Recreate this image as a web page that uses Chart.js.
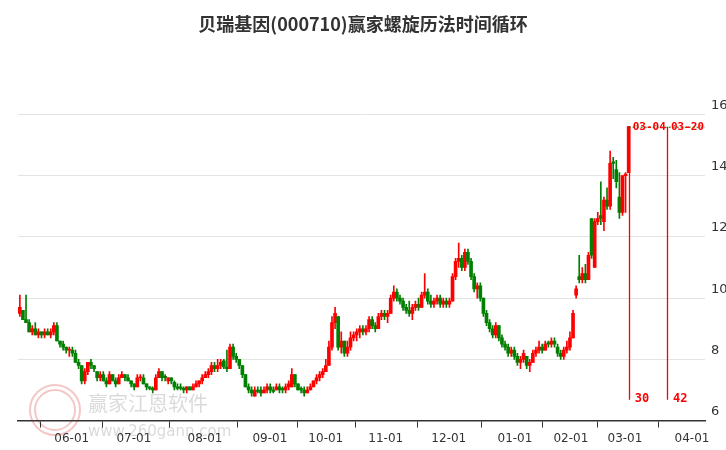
<!DOCTYPE html>
<html><head><meta charset="utf-8">
<script src="https://cdn.jsdelivr.net/npm/chart.js@4"></script>
<style>html,body{margin:0;padding:0;background:#fff}#w{width:726px;height:450px}</style>
</head><body><div id="w"><canvas id="c"></canvas></div>
<script>
const title = "贝瑞基因(000710)赢家螺旋历法时间循环";
// candles: [open, high, low, close]
const candles = [
[9.5,10.1,9.4,9.7],[9.6,9.6,9.3,9.3],[9.3,10.1,9.2,9.2],[9.2,9.3,8.9,8.9],[8.9,9.1,8.8,9.0],[9.0,9.2,8.8,8.8],[8.8,9.0,8.7,8.9],[8.9,8.9,8.7,8.8],[8.8,9.0,8.7,8.9],[8.9,9.0,8.8,8.8],[8.8,9.0,8.7,8.9],[8.9,9.2,8.8,9.1],[9.1,9.2,8.6,8.6],[8.6,8.6,8.4,8.5],[8.5,8.6,8.3,8.4],[8.4,8.4,8.2,8.3],[8.3,8.4,8.1,8.3],
[8.3,8.4,8.1,8.2],[8.2,8.3,7.9,7.9],[7.9,8.0,7.7,7.8],[7.8,7.8,7.2,7.3],[7.3,7.7,7.2,7.6],[7.6,7.9,7.5,7.9],[7.9,8.0,7.7,7.8],[7.8,7.8,7.6,7.7],[7.6,7.6,7.3,7.4],[7.4,7.6,7.3,7.5],[7.5,7.6,7.3,7.3],[7.3,7.4,7.1,7.2],[7.2,7.6,7.2,7.5],[7.5,7.5,7.3,7.3],[7.3,7.4,7.1,7.2],[7.2,7.5,7.2,7.4],[7.4,7.6,7.4,7.5],[7.5,7.5,7.3,7.4],[7.4,7.5,7.3,7.3],[7.3,7.3,7.1,7.2],
[7.2,7.2,7.0,7.1],[7.1,7.5,7.1,7.4],[7.4,7.5,7.3,7.4],[7.4,7.5,7.2,7.2],[7.2,7.2,7.0,7.1],[7.1,7.1,7.0,7.05],[7.05,7.1,6.9,7.0],[7.0,7.5,7.0,7.4],[7.4,7.7,7.4,7.6],[7.6,7.6,7.3,7.4],[7.45,7.5,7.3,7.4],[7.3,7.4,7.2,7.4],[7.4,7.4,7.2,7.3],[7.25,7.3,7.0,7.1],[7.1,7.2,7.0,7.05],[7.1,7.2,7.0,7.05],[7.05,7.1,6.9,7.0],[7.0,7.1,6.9,7.1],[7.1,7.1,7.0,7.0],[7.0,7.2,7.0,7.1],[7.1,7.3,7.1,7.2],[7.2,7.3,7.1,7.3],[7.3,7.5,7.2,7.4],
[7.4,7.6,7.4,7.5],[7.5,7.7,7.4,7.6],[7.6,7.9,7.5,7.8],[7.8,7.9,7.6,7.7],[7.7,8.0,7.6,7.8],[7.8,8.0,7.7,7.9],[7.95,8.0,7.7,7.75],[7.75,8.3,7.6,7.7],[7.7,8.5,7.7,8.4],[8.4,8.5,8.0,8.1],[8.1,8.2,7.9,8.0],[8.0,8.0,7.7,7.8],[7.8,7.8,7.4,7.5],[7.5,7.5,7.1,7.1],[7.1,7.2,6.9,7.0],[7.0,7.1,6.8,6.9],[6.8,7.1,6.8,7.0],[7.0,7.1,6.9,6.95],[7.0,7.1,6.8,6.9],[6.9,7.1,6.9,7.0],[7.0,7.2,6.9,7.1],[7.1,7.2,6.9,7.0],
[7.0,7.1,6.9,6.95],[7.0,7.2,7.0,7.1],[7.1,7.2,6.9,7.0],[7.05,7.1,6.9,7.0],[7.0,7.2,6.9,7.1],[7.1,7.3,7.0,7.2],[7.1,7.7,7.1,7.5],[7.5,7.5,7.1,7.2],[7.2,7.2,7.0,7.0],[7.05,7.1,6.9,7.0],[7.0,7.1,6.8,6.9],[6.9,7.1,6.9,7.0],[7.0,7.2,7.0,7.1],[7.1,7.3,7.1,7.3],[7.3,7.5,7.2,7.4],[7.4,7.6,7.3,7.5],[7.5,7.7,7.4,7.6],[7.6,8.0,7.6,7.8],
[7.8,8.6,7.8,8.4],[8.4,9.4,8.3,9.2],[9.2,9.7,9.0,9.5],[9.4,9.4,8.3,8.4],[8.4,8.9,8.2,8.6],[8.6,8.6,8.1,8.2],[8.2,8.6,8.1,8.4],[8.4,8.9,8.3,8.7],[8.7,8.9,8.6,8.8],[8.8,9.0,8.6,8.9],[8.9,9.1,8.7,9.0],[9.0,9.1,8.8,8.9],[8.9,9.1,8.8,9.0],[9.0,9.4,8.9,9.3],[9.3,9.4,9.0,9.1],[9.1,9.2,8.9,9.0],[9.0,9.5,9.0,9.4],[9.4,9.6,9.3,9.5],[9.5,9.6,9.3,9.4],
[9.4,9.6,9.2,9.5],[9.5,10.1,9.5,10.0],[10.0,10.4,9.9,10.2],[10.2,10.3,9.9,10.0],[10.0,10.1,9.8,9.9],[9.9,10.0,9.6,9.7],[9.7,9.8,9.5,9.6],[9.6,9.9,9.4,9.5],[9.5,9.8,9.3,9.7],[9.7,9.9,9.6,9.8],[9.8,10.0,9.6,9.7],[9.7,10.2,9.7,10.1],[10.1,10.8,10.0,10.2],[10.2,10.3,9.8,9.9],[9.9,10.1,9.7,9.8],[9.8,10.0,9.7,9.9],[9.9,10.1,9.8,10.0],[10.0,10.1,9.7,9.8],[9.8,10.0,9.7,9.9],[9.9,10.0,9.7,9.8],[9.8,10.0,9.7,9.9],
[9.9,10.8,9.9,10.7],[10.7,11.3,10.6,11.2],[11.2,11.8,11.0,11.3],[11.3,11.4,10.9,11.0],[11.0,11.6,10.9,11.5],[11.5,11.6,11.1,11.2],[11.2,11.3,10.6,10.7],[10.7,10.8,10.2,10.3],[10.3,10.5,10.0,10.4],[10.4,10.5,9.9,10.0],[10.0,10.0,9.4,9.5],[9.5,9.6,9.1,9.2],[9.2,9.3,8.9,9.0],[9.0,9.1,8.7,8.8],[8.8,9.2,8.7,9.1],[9.1,9.1,8.6,8.7],[8.7,8.8,8.4,8.5],[8.5,8.6,8.3,8.4],[8.4,8.5,8.1,8.2],[8.2,8.4,8.1,8.3],[8.3,8.4,8.0,8.1],
[8.1,8.2,7.8,7.9],[7.9,8.1,7.7,8.0],[8.0,8.3,7.9,8.2],[8.1,8.1,7.7,7.8],[7.8,8.0,7.6,7.9],[7.9,8.3,7.9,8.2],[8.2,8.4,8.1,8.3],[8.3,8.6,8.2,8.4],[8.4,8.5,8.2,8.3],[8.3,8.6,8.3,8.5],[8.55,8.6,8.4,8.5],[8.5,8.7,8.4,8.6],[8.6,8.7,8.4,8.5],[8.4,8.5,8.1,8.2],[8.2,8.3,8.0,8.1],[8.1,8.4,8.0,8.3],[8.3,8.6,8.2,8.4],[8.4,8.9,8.3,8.7],
[8.7,9.6,8.7,9.5],[10.1,10.4,10.0,10.3],[10.7,11.4,10.5,10.6],[10.6,11.0,10.5,10.8],[10.8,11.1,10.5,10.6],[10.6,11.5,10.6,11.4],[12.6,12.6,11.3,11.4],[11.0,12.6,11.0,12.5],[12.5,12.8,12.4,12.6],[12.7,13.8,12.4,12.6],[12.5,13.3,12.2,13.2],[13.2,13.6,12.9,13.0],[13.0,14.8,12.9,14.4],[14.45,14.6,13.9,14.4],[14.2,14.5,13.6,13.8],[13.3,14.1,12.6,12.8],[12.8,14.0,12.7,14.0],[14.0,14.1,12.8,14.05],
[14.1,15.6,14.1,15.6]
];
const monthLabels = ["06-01","07-01","08-01","09-01","10-01","11-01","12-01","01-01","02-01","03-01","04-01"];
const monthPos = [16.8,36.9,59.9,80.9,99,118.4,138.8,160.2,178.3,195.8,217.5];
const yTicks = [6,8,10,12,14,16];
const cycleDates = ["03-04","03-20"];
const cyclePos = [197,209.4];
const cycleDays = ["30","42"];
const topPrice = 15.6;

const up = c => c[3] >= c[0];
const colorOf = c => up(c) ? "#ff0000" : "#008000";
const bodies = candles.map((c,i)=>{const lo=Math.min(c[0],c[3]),hi=Math.max(c[0],c[3]);return {x:i,y:[lo,hi===lo?hi+0.03:hi]};});
const wicks = candles.map((c,i)=>({x:i,y:[c[2],c[1]]}));

const overlay = {
  id:'overlay',
  afterDatasetsDraw(chart){
    const {ctx, scales:{x,y}} = chart;
    ctx.save();
    ctx.strokeStyle = "#ff0000"; ctx.lineWidth = 1.3;
    cyclePos.forEach(p=>{
      const px = Math.round(x.getPixelForValue(p))+0.5;
      ctx.beginPath(); ctx.moveTo(px, y.getPixelForValue(topPrice)); ctx.lineTo(px, y.getPixelForValue(6.68)); ctx.stroke();
    });
    ctx.strokeStyle = "#006400"; ctx.lineWidth=1; ctx.setLineDash([2,2]);
    ctx.beginPath(); ctx.moveTo(x.getPixelForValue(cyclePos[0]), y.getPixelForValue(topPrice)+0.5);
    ctx.lineTo(x.right, y.getPixelForValue(topPrice)+0.5); ctx.stroke(); ctx.setLineDash([]);
    ctx.fillStyle="#ff0000"; ctx.font="bold 11px 'DejaVu Sans Mono', monospace"; ctx.textBaseline="middle";
    cyclePos.forEach((p,i)=>{
      const px = x.getPixelForValue(p);
      ctx.fillText(cycleDates[i], px+4, y.getPixelForValue(topPrice));
      ctx.font="bold 12px 'DejaVu Sans Mono', monospace";
      ctx.fillText(cycleDays[i], px+6, y.getPixelForValue(6.68)-1);
      ctx.font="bold 11px 'DejaVu Sans Mono', monospace";
    });
    ctx.restore();
  },
  beforeDraw(chart){
    const ctx = chart.ctx; ctx.save();
    ctx.fillStyle="#333"; ctx.font="bold 18px 'Noto Sans CJK SC'"; ctx.textAlign="center"; ctx.textBaseline="middle";
    ctx.fillText(title, 363, 24);
    ctx.globalAlpha=0.22; ctx.strokeStyle="#c00"; ctx.lineWidth=2;
    ctx.beginPath(); ctx.arc(55,410,25,0,Math.PI*2); ctx.stroke();
    ctx.beginPath(); ctx.arc(55,410,20,0,Math.PI*2); ctx.stroke();
    ctx.fillStyle="#555"; ctx.font="20px 'Noto Sans CJK SC'"; ctx.textAlign="left";
    ctx.fillText("赢家江恩软件", 88, 403);
    ctx.font="15px 'DejaVu Sans'"; ctx.fillText("www.260gann.com", 88, 432);
    ctx.restore();
  }
};

new Chart(document.getElementById('c'), {
  type:'bar',
  data:{datasets:[
    {data:wicks, backgroundColor:candles.map(colorOf), barThickness:1, grouped:false, order:2},
    {data:bodies, backgroundColor:candles.map(colorOf), barThickness:3, grouped:false, order:1}
  ]},
  options:{
    responsive:true, maintainAspectRatio:false, animation:false,
    layout:{padding:{top:93,left:18,right:0,bottom:0}},
    plugins:{legend:{display:false},tooltip:{enabled:false}},
    scales:{
      x:{type:'linear', min:-0.6, max:221.7, offset:false,
        afterBuildTicks:s=>{s.ticks = monthPos.map(v=>({value:v}));},
        ticks:{autoSkip:false, maxRotation:0, color:"#333", font:{size:12,family:"'DejaVu Sans'"}, padding:4,
          callback:(v,i)=>monthLabels[i]},
        grid:{drawOnChartArea:false, drawTicks:true, tickLength:7, color:"#333"},
        border:{color:"#333", width:1.5}
      },
      y:{position:'right', min:6, max:16.7,
        afterBuildTicks:s=>{s.ticks = yTicks.map(v=>({value:v}));},
        afterFit:s=>{s.width=21;},
        ticks:{color:"#333", font:{size:13,family:"'DejaVu Sans'"}, padding:6, labelOffset:-9},
        grid:{color:"#e3e3e3", drawTicks:false},
        border:{display:false}
      }
    }
  },
  plugins:[overlay]
});
</script></body></html>
